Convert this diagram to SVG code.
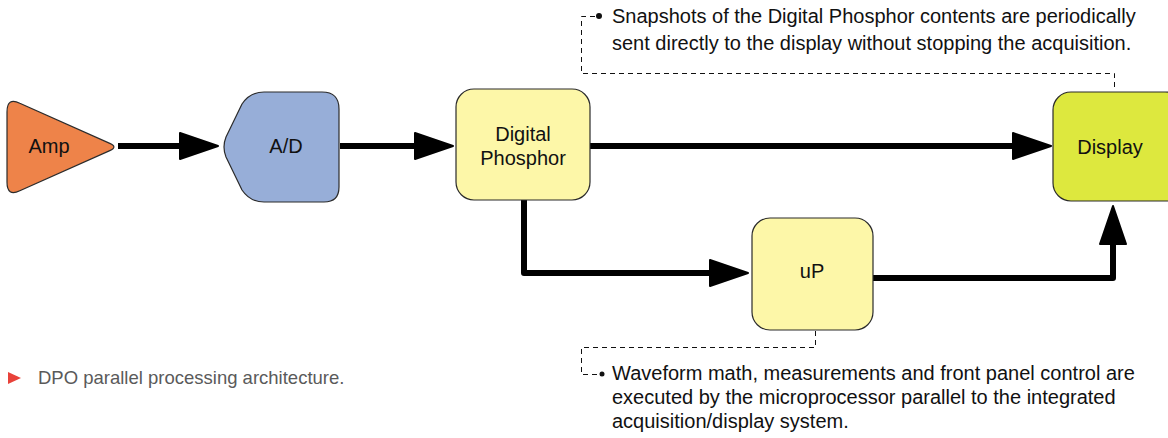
<svg xmlns="http://www.w3.org/2000/svg" width="1168" height="438" viewBox="0 0 1168 438">
<defs>
<style>
.node{stroke:#2b2b2b;stroke-width:1.2;stroke-linejoin:round}
.lbl{font-family:"Liberation Sans",Arial,Helvetica,sans-serif;font-size:20px;fill:#111;text-anchor:middle}
.note{font-family:"Liberation Sans",Arial,Helvetica,sans-serif;font-size:20px;fill:#111}
.cap{font-family:"Liberation Sans",Arial,Helvetica,sans-serif;font-size:18.5px;fill:#5a5a5a}
.wire{fill:none;stroke:#000;stroke-width:6;stroke-linejoin:round;stroke-linecap:butt;marker-end:url(#ah)}
.dash{fill:none;stroke:#111;stroke-width:1;stroke-dasharray:5 4}
</style>
<marker id="ah" markerUnits="userSpaceOnUse" markerWidth="42" markerHeight="32" refX="1" refY="16" orient="auto" viewBox="0 0 42 32">
<path d="M1,3 L39,16 L1,29 Z" fill="#000" stroke="#000" stroke-width="2" stroke-linejoin="round"/>
</marker>
</defs>
<rect width="1168" height="438" fill="#fff"/>

<g id="connectors">
<path class="wire" d="M118,146 H180"/>
<path class="wire" d="M340,146 H415"/>
<path class="wire" d="M590,146 H1013"/>
<path class="wire" d="M524,200 V273 H710"/>
<path class="wire" d="M873,278 H1113 V244"/>
</g>

<g id="amp">
<path class="node" fill="#EE8349" d="M7,112 Q7,97 19.8,103.2 L109.8,143.4 Q118,147 109.8,150.6 L19.8,190.8 Q7,197 7,182 Z"/>
<text class="lbl" x="49" y="153">Amp</text>
</g>

<g id="ad">
<path class="node" fill="#97AED8" d="M264,92 L322,92 Q339,92 339,109 L339,187 Q339,202 324,202 L264,202 Q250,202 242,190 L226,157 Q222,147 226,137 L242,104 Q250,92 264,92 Z"/>
<text class="lbl" x="286" y="153">A/D</text>
</g>

<g id="phosphor">
<rect class="node" fill="#FDF7A8" x="456" y="89" width="134" height="111" rx="18"/>
<text class="lbl" x="523" y="141">Digital</text>
<text class="lbl" x="523" y="165">Phosphor</text>
</g>

<g id="display">
<rect class="node" fill="#DDE83E" x="1053" y="92" width="130" height="109" rx="18"/>
<text class="lbl" x="1110" y="154">Display</text>
</g>

<g id="up">
<rect class="node" fill="#FDF7A8" x="752" y="218" width="121" height="112" rx="18"/>
<text class="lbl" x="812" y="278">uP</text>
</g>

<g id="note-top">
<path class="dash" d="M595,16.5 H581.5 V73.5 H1114.5 V91"/>
<circle cx="599" cy="16" r="3" fill="#111"/>
<text class="note" x="612" y="23">Snapshots of the Digital Phosphor contents are periodically</text>
<text class="note" x="612" y="50">sent directly to the display without stopping the acquisition.</text>
</g>

<g id="note-bottom">
<path class="dash" d="M815.5,331 V347.5 H581.5 V374.5 H599"/>
<circle cx="602" cy="374" r="2.5" fill="#111"/>
<text class="note" x="612" y="380">Waveform math, measurements and front panel control are</text>
<text class="note" x="612" y="404">executed by the microprocessor parallel to the integrated</text>
<text class="note" x="612" y="428">acquisition/display system.</text>
</g>

<g id="caption">
<polygon points="8,372 21,378 8,384" fill="#E8423A"/>
<text class="cap" x="38" y="384">DPO parallel processing architecture.</text>
</g>
</svg>
